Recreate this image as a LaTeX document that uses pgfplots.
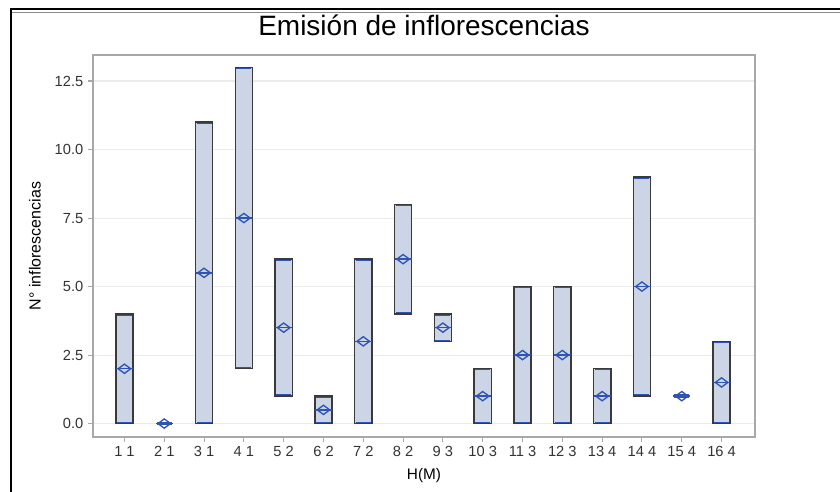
\documentclass[border=0pt]{standalone}
\usepackage{fontspec}
\setmainfont{Liberation Sans}
\usepackage{pgfplots}
\pgfplotsset{compat=1.18}
\usepgfplotslibrary{statistics}
\definecolor{boxfill}{HTML}{CBD5E6}
\definecolor{boxline}{HTML}{3A3A3A}
\definecolor{meanblue}{HTML}{2F55B4}
\definecolor{axgray}{HTML}{A8A8A8}
\definecolor{gridgray}{HTML}{EBEBEB}
\pgfdeclareplotmark{wdiamond}{%
  \pgfpathmoveto{\pgfqpoint{\pgfplotmarksize}{0pt}}%
  \pgfpathlineto{\pgfqpoint{0pt}{0.74\pgfplotmarksize}}%
  \pgfpathlineto{\pgfqpoint{-\pgfplotmarksize}{0pt}}%
  \pgfpathlineto{\pgfqpoint{0pt}{-0.74\pgfplotmarksize}}%
  \pgfpathclose\pgfusepathqstroke}
\pgfplotstableread{
x lo hi mean
1 0 4 2
2 0 0 0
3 0 11 5.5
4 2 13 7.5
5 1 6 3.5
6 0 1 0.5
7 0 6 3
8 4 8 6
9 3 4 3.5
10 0 2 1
11 0 5 2.5
12 0 5 2.5
13 0 2 1
14 1 9 5
15 1 1 1
16 0 3 1.5
}\datatable
\begin{document}
\begin{tikzpicture}[x=1pt,y=1pt]
\useasboundingbox (0,0) rectangle (630,369);
\draw[line width=1.5pt] (8.25,0) -- (8.25,362.25) -- (630,362.25);
\draw[black!45, line width=0.5pt] (9,359.6) -- (630,359.6);
\begin{axis}[
  at={(69.75pt,41.25pt)}, anchor=south west,
  scale only axis, width=496.5pt, height=286.5pt,
  xmin=0.21, xmax=16.84, ymin=-0.49, ymax=13.45,
  xtick={1,...,16},
  xticklabels={1 1,2 1,3 1,4 1,5 2,6 2,7 2,8 2,9 3,10 3,11 3,12 3,13 4,14 4,15 4,16 4},
  ytick={0,2.5,5,7.5,10,12.5},
  yticklabel style={/pgf/number format/.cd, fixed, fixed zerofill, precision=1},
  /pgf/number format/assume math mode=true,
  tick align=outside, major tick length=3.75pt,
  xtick pos=bottom, ytick pos=left,
  axis line style={axgray, line width=0.9pt}, tick style={axgray, line width=0.8pt},
  ymajorgrids, grid style={gridgray, line width=0.8pt},
  ticklabel style={font=\fontsize{11}{13}\selectfont, text=black!80},
  title={Emisión de inflorescencias},
  title style={at={(axis description cs:0.5,1.0576)}, anchor=center, yshift=0pt, font=\fontsize{21}{25}\selectfont},
  xlabel={H(M)},
  xlabel style={at={(axis description cs:0.5,-0.1)}, anchor=center, yshift=0pt, font=\fontsize{11.5}{13}\selectfont},
  ylabel={N° inflorescencias},
  ylabel style={at={(axis description cs:-0.0876,0.5)}, anchor=center, font=\fontsize{12}{14}\selectfont},
  boxplot/draw direction=y,
  boxplot/box extend=0.434,
  boxplot/every whisker/.style={draw=none},
  boxplot/every median/.style={draw=none},
  bx/.style={draw=boxline, fill=boxfill, line width=1.1pt},
]
\addplot[bx, boxplot prepared={lower whisker=0, lower quartile=0, median=2,   upper quartile=4,  upper whisker=4,  draw position=1}] coordinates {};
\addplot[bx, boxplot prepared={lower whisker=2, lower quartile=2, median=7.5, upper quartile=13, upper whisker=13, draw position=4}] coordinates {};
\addplot[bx, boxplot prepared={lower whisker=0, lower quartile=0, median=5.5, upper quartile=11, upper whisker=11, draw position=3}] coordinates {};
\addplot[bx, boxplot prepared={lower whisker=1, lower quartile=1, median=3.5, upper quartile=6,  upper whisker=6,  draw position=5}] coordinates {};
\addplot[bx, boxplot prepared={lower whisker=0, lower quartile=0, median=0.5, upper quartile=1,  upper whisker=1,  draw position=6}] coordinates {};
\addplot[bx, boxplot prepared={lower whisker=0, lower quartile=0, median=3,   upper quartile=6,  upper whisker=6,  draw position=7}] coordinates {};
\addplot[bx, boxplot prepared={lower whisker=4, lower quartile=4, median=6,   upper quartile=8,  upper whisker=8,  draw position=8}] coordinates {};
\addplot[bx, boxplot prepared={lower whisker=3, lower quartile=3, median=3.5, upper quartile=4,  upper whisker=4,  draw position=9}] coordinates {};
\addplot[bx, boxplot prepared={lower whisker=0, lower quartile=0, median=1,   upper quartile=2,  upper whisker=2,  draw position=10}] coordinates {};
\addplot[bx, boxplot prepared={lower whisker=0, lower quartile=0, median=2.5, upper quartile=5,  upper whisker=5,  draw position=11}] coordinates {};
\addplot[bx, boxplot prepared={lower whisker=0, lower quartile=0, median=2.5, upper quartile=5,  upper whisker=5,  draw position=12}] coordinates {};
\addplot[bx, boxplot prepared={lower whisker=0, lower quartile=0, median=1,   upper quartile=2,  upper whisker=2,  draw position=13}] coordinates {};
\addplot[bx, boxplot prepared={lower whisker=1, lower quartile=1, median=5,   upper quartile=9,  upper whisker=9,  draw position=14}] coordinates {};
\addplot[bx, boxplot prepared={lower whisker=0, lower quartile=0, median=1.5, upper quartile=3,  upper whisker=3,  draw position=16}] coordinates {};
% caps at the ends of each box (blue, just inside the edge)
\addplot[only marks, mark=-, mark size=5.6pt, mark options={draw=meanblue, line width=0.8pt, yshift=0.9pt}]
  table[x=x, y=lo] {\datatable};
\addplot[only marks, mark=-, mark size=5.6pt, mark options={draw=meanblue, line width=0.8pt, yshift=-0.9pt}]
  table[x=x, y=hi] {\datatable};
% means
\addplot[only marks, mark=wdiamond, mark size=4.7pt,
  mark options={draw=meanblue, fill=none, line width=1.0pt},
  error bars/.cd, x dir=both, x fixed=0.215, error mark=none,
  error bar style={draw=meanblue, line width=1.1pt}]
  table[x=x, y=mean] {\datatable};
\end{axis}
\end{tikzpicture}
\end{document}
